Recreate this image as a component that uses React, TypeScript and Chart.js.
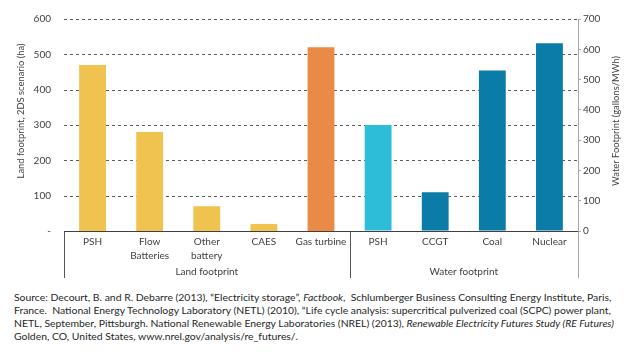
import React, { useEffect, useRef } from 'react';
import { Chart, registerables } from 'chart.js';

Chart.register(...registerables);

const categories: string[][] = [
  ['PSH'], ['Flow', 'Batteries'], ['Other', 'battery'], ['CAES'], ['Gas turbine'],
  ['PSH'], ['CCGT'], ['Coal'], ['Nuclear'],
];
const landValues: (number | null)[] = [470, 280, 70, 20, 520, null, null, null, null];
const waterValues: (number | null)[] = [null, null, null, null, null, 350, 128, 530, 620];
const landColors = ['#F0C24F', '#F0C24F', '#F0C24F', '#F0C24F', '#E98A46', null, null, null, null];
const waterColors = [null, null, null, null, null, '#2DBDD8', '#0B7CA7', '#0B7CA7', '#0B7CA7'];
const groups = [
  { label: 'Land footprint', from: 0, to: 4 },
  { label: 'Water footprint', from: 5, to: 8 },
];
const leftTitle = 'Land footprint, 2DS scenario (ha)';
const rightTitle = 'Water Footprint (gallons/MWh)';
const leftTicks = { min: 0, max: 600, step: 100 };
const rightTicks = { min: 0, max: 700, step: 100 };

const FONT = 'Lato, "Open Sans", sans-serif';
const TEXT = '#404040';

const W = 639;
const H = 290;

const gridPlugin = {
  id: 'dashGrid',
  beforeDatasetsDraw(chart: any) {
    const { ctx, chartArea, scales } = chart;
    const y = scales.y;
    ctx.save();
    ctx.strokeStyle = '#5E5E5E';
    ctx.lineWidth = 1;
    ctx.setLineDash([3, 3]);
    y.ticks.forEach((t: any) => {
      if (t.value === 0) return;
      const py = Math.round(y.getPixelForValue(t.value)) + 0.5;
      ctx.beginPath();
      ctx.moveTo(chartArea.left, py);
      ctx.lineTo(chartArea.right, py);
      ctx.stroke();
    });
    ctx.restore();
  },
};

const decor = {
  id: 'decor',
  afterDraw(chart: any) {
    const { ctx, chartArea, scales } = chart;
    const x = scales.x;
    const bottom = chartArea.bottom;
    ctx.save();
    const bounds: number[] = [chartArea.left];
    groups.forEach((g, i) => {
      if (i > 0) {
        bounds.push((x.getPixelForValue(g.from) + x.getPixelForValue(g.from - 1)) / 2);
      }
    });
    ctx.strokeStyle = '#555555';
    ctx.lineWidth = 1;
    bounds.forEach((bx) => {
      const px = Math.round(bx) + 0.5;
      ctx.beginPath();
      ctx.moveTo(px, bottom);
      ctx.lineTo(px, bottom + 47);
      ctx.stroke();
    });
    ctx.strokeStyle = '#A6A6A6';
    const rx = Math.round(chartArea.right) + 0.5;
    ctx.beginPath();
    ctx.moveTo(rx, chartArea.top);
    ctx.lineTo(rx, bottom + 47);
    ctx.stroke();
    ctx.strokeStyle = '#404040';
    ctx.beginPath();
    ctx.moveTo(chartArea.left, Math.round(bottom) + 0.5);
    ctx.lineTo(chartArea.right, Math.round(bottom) + 0.5);
    ctx.stroke();
    ctx.fillStyle = TEXT;
    ctx.font = `10px ${FONT}`;
    ctx.textAlign = 'center';
    ctx.textBaseline = 'middle';
    groups.forEach((g) => {
      const l = g.from === 0 ? chartArea.left : (x.getPixelForValue(g.from) + x.getPixelForValue(g.from - 1)) / 2;
      const r = g.to === categories.length - 1 ? chartArea.right : (x.getPixelForValue(g.to) + x.getPixelForValue(g.to + 1)) / 2;
      ctx.fillText(g.label, (l + r) / 2, bottom + 41);
    });
    ctx.font = `9.4px ${FONT}`;
    const midY = (chartArea.top + bottom) / 2;
    ctx.save();
    ctx.translate(21, 111);
    ctx.rotate(-Math.PI / 2);
    ctx.fillText(leftTitle, 0, 0);
    ctx.restore();
    ctx.save();
    ctx.translate(616, 121);
    ctx.rotate(-Math.PI / 2);
    ctx.fillText(rightTitle, 0, 0);
    ctx.restore();
    ctx.restore();
  },
};

export default function App() {
  const ref = useRef<HTMLCanvasElement | null>(null);
  useEffect(() => {
    document.body.style.margin = '0';
    const canvas = ref.current!;
    const chart = new Chart(canvas, {
      type: 'bar',
      data: {
        labels: categories as any,
        datasets: [
          {
            data: landValues as any,
            backgroundColor: landColors as any,
            yAxisID: 'y',
            grouped: false,
            barPercentage: 0.47,
            categoryPercentage: 1,
          } as any,
          {
            data: waterValues as any,
            backgroundColor: waterColors as any,
            yAxisID: 'y1',
            grouped: false,
            barPercentage: 0.47,
            categoryPercentage: 1,
          } as any,
        ],
      },
      options: {
        animation: false,
        responsive: false,
        devicePixelRatio: 1,
        layout: { padding: { top: 10, left: 0, right: 0, bottom: 0 } },
        plugins: { legend: { display: false }, tooltip: { enabled: false } },
        scales: {
          x: {
            grid: { display: false, drawTicks: false },
            border: { display: false },
            ticks: {
              color: TEXT,
              font: { family: FONT, size: 10, lineHeight: 1.4 },
              padding: 4,
              maxRotation: 0,
              autoSkip: false,
            },
            afterFit: (s: any) => { s.height = H - 231; },
          },
          y: {
            position: 'left',
            min: leftTicks.min,
            max: leftTicks.max,
            grid: { display: false, drawTicks: false },
            border: { display: false },
            ticks: {
              stepSize: leftTicks.step,
              color: TEXT,
              font: { family: FONT, size: 10 },
              padding: 13,
              callback: (v: any) => (v === 0 ? '-' : String(v)),
            },
            afterFit: (s: any) => { s.width = 64; },
          },
          y1: {
            position: 'right',
            min: rightTicks.min,
            max: rightTicks.max,
            grid: { drawOnChartArea: false, drawTicks: true, tickLength: 3, color: '#A6A6A6' },
            border: { display: true, color: '#A6A6A6' },
            ticks: {
              stepSize: rightTicks.step,
              color: TEXT,
              font: { family: FONT, size: 10 },
              padding: 2,
            },
            afterFit: (s: any) => { s.width = W - 578; },
          },
        },
      },
      plugins: [gridPlugin, decor],
    } as any);
    return () => chart.destroy();
  }, []);

  return (
    <div style={{ position: 'relative', width: W, height: 357, background: '#fff' }}>
      <canvas ref={ref} width={W} height={H} style={{ display: 'block', width: W, height: H }} />
      <div
        style={{
          position: 'absolute',
          left: 14,
          top: 291,
          fontFamily: FONT,
          fontSize: 10.4,
          lineHeight: '13px',
          color: '#262626',
          whiteSpace: 'nowrap',
        }}
      >
        <div>Source: Decourt, B. and R. Debarre (2013), “Electricity storage”, <i>Factbook</i>,&nbsp; Schlumberger Business Consulting Energy Institute, Paris,</div>
        <div>France.&nbsp; National Energy Technology Laboratory (NETL) (2010), “Life cycle analysis: supercritical pulverized coal (SCPC) power plant,</div>
        <div>NETL, September, Pittsburgh. National Renewable Energy Laboratories (NREL) (2013), <i>Renewable Electricity Futures Study (RE Futures)</i></div>
        <div>Golden, CO, United States, www.nrel.gov/analysis/re_futures/.</div>
      </div>
    </div>
  );
}
